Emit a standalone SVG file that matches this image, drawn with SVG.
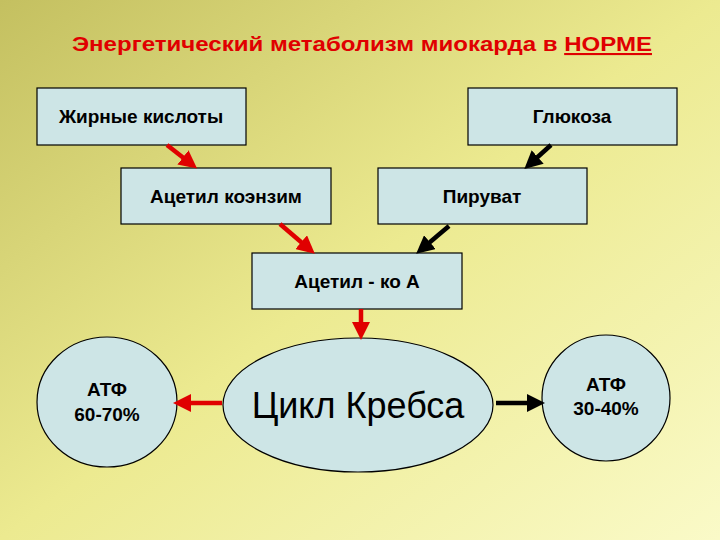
<svg xmlns="http://www.w3.org/2000/svg" width="720" height="540" viewBox="0 0 720 540">
<defs>
<linearGradient id="bg" x1="0" y1="0" x2="1" y2="1">
<stop offset="0" stop-color="#c4c060"/><stop offset="0.5" stop-color="#ecea90"/><stop offset="1" stop-color="#fafac8"/>
</linearGradient>
<marker id="ar" markerWidth="4" markerHeight="4" refX="2" refY="2" orient="auto" markerUnits="strokeWidth"><path d="M0,0 L4,2 L0,4 Z" fill="#e00000"/></marker>
<marker id="ab" markerWidth="4" markerHeight="4" refX="2" refY="2" orient="auto" markerUnits="strokeWidth"><path d="M0,0 L4,2 L0,4 Z" fill="#000"/></marker>
<style>
.box{fill:#cde5e6;stroke:#000;stroke-width:1.2}
.t{font-family:"Liberation Sans",Arial,sans-serif;font-size:19px;font-weight:bold;text-anchor:middle;fill:#000}
.r{stroke:#e00000;stroke-width:4.5;fill:none;marker-end:url(#ar)}
.b{stroke:#000;stroke-width:4.5;fill:none;marker-end:url(#ab)}
</style>
</defs>
<rect width="720" height="540" fill="url(#bg)"/>
<text x="362" y="51" font-family="Liberation Sans,Arial,sans-serif" font-size="21" font-weight="bold" fill="#e00000" text-anchor="middle" textLength="580" lengthAdjust="spacingAndGlyphs">Энергетический метаболизм миокарда в <tspan text-decoration="underline">НОРМЕ</tspan></text>
<g id="n1"><rect class="box" x="37" y="88" width="209" height="57"/><text class="t" x="141" y="123">Жирные кислоты</text></g>
<g id="n2"><rect class="box" x="468" y="88" width="209" height="57"/><text class="t" x="572" y="123">Глюкоза</text></g>
<g id="n3"><rect class="box" x="121" y="168" width="210" height="56"/><text class="t" x="226" y="203">Ацетил коэнзим</text></g>
<g id="n4"><rect class="box" x="378" y="168" width="209" height="56"/><text class="t" x="482" y="203">Пируват</text></g>
<g id="n5"><rect class="box" x="252" y="253" width="210" height="56"/><text class="t" x="357" y="288">Ацетил - ко А</text></g>
<g id="n6"><ellipse class="box" cx="107" cy="402" rx="70" ry="65"/><text class="t" x="107" y="396">АТФ</text><text class="t" x="107" y="421">60-70%</text></g>
<g id="n7"><ellipse class="box" cx="358" cy="405" rx="135" ry="67"/><text class="t" x="358" y="418" style="font-size:36px;font-weight:normal">Цикл Кребса</text></g>
<g id="n8"><ellipse class="box" cx="606" cy="398" rx="64" ry="63"/><text class="t" x="606" y="391">АТФ</text><text class="t" x="606" y="415">30-40%</text></g>
<g id="connectors">
<line class="r" x1="167" y1="145" x2="190" y2="163"/>
<line class="r" x1="280" y1="224" x2="308" y2="248"/>
<line class="b" x1="551" y1="145" x2="531" y2="163"/>
<line class="b" x1="449" y1="226" x2="423" y2="248"/>
<line class="r" x1="361" y1="309" x2="361" y2="331"/>
<line class="r" x1="222" y1="403" x2="182" y2="403"/>
<line class="b" x1="496" y1="403" x2="536" y2="403"/>
</g>
</svg>
